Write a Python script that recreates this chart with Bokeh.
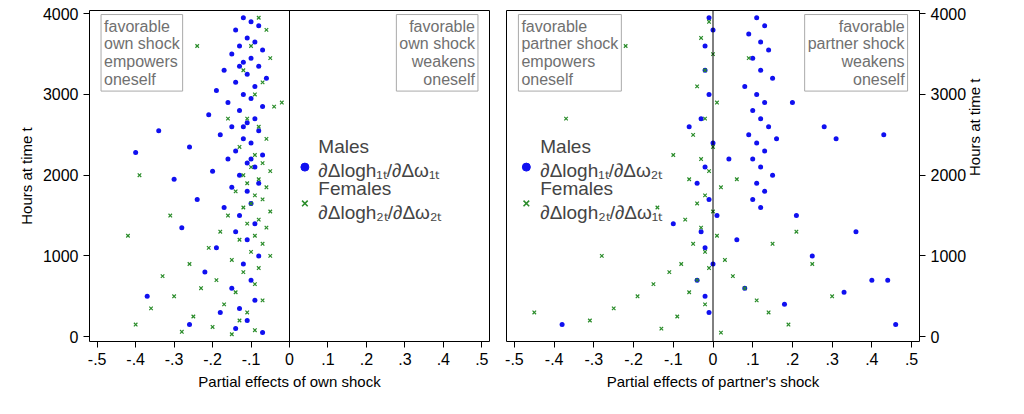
from bokeh.plotting import figure
from bokeh.layouts import row
from bokeh.models import Span, Label, FixedTicker
from bokeh.embed import file_html
from bokeh.resources import INLINE
import math

lm_pts = [(-0.12,3950),(-0.10,3900),(-0.08,3850),(-0.14,3800),(-0.11,3700),(-0.09,3650),(-0.13,3600),(-0.07,3550),(-0.15,3500),(-0.10,3450),(-0.12,3400),(-0.08,3350),(-0.17,3300),(-0.11,3250),(-0.06,3200),(-0.14,3150),(-0.09,3100),(-0.19,3050),(-0.12,3000),(-0.10,2950),(-0.16,2900),(-0.07,2850),(-0.13,2800),(-0.21,2750),(-0.09,2700),(-0.11,2650),(-0.15,2600),(-0.08,2550),(-0.34,2550),(-0.18,2500),(-0.12,2450),(-0.10,2400),(-0.26,2350),(-0.14,2300),(-0.07,2250),(-0.40,2280),(-0.16,2200),(-0.11,2150),(-0.09,2100),(-0.20,2050),(-0.13,2000),(-0.30,1950),(-0.08,1900),(-0.15,1850),(-0.11,1800),(-0.24,1700),(-0.10,1650),(-0.17,1600),(-0.13,1500),(-0.09,1400),(-0.28,1350),(-0.14,1300),(-0.11,1200),(-0.19,1100),(-0.08,1000),(-0.12,900),(-0.22,800),(-0.10,700),(-0.15,600),(-0.37,500),(-0.09,450),(-0.13,350),(-0.18,300),(-0.11,200),(-0.26,150),(-0.14,100),(-0.07,50),(-0.12,2600),(-0.13,3350),(-0.10,2200)]
lf_pts = [(-0.08,3950),(-0.06,3800),(-0.10,3600),(-0.05,3450),(-0.12,3300),(-0.07,3150),(-0.09,3000),(-0.04,2850),(-0.11,2700),(-0.08,2600),(-0.06,2450),(-0.13,2350),(-0.09,2250),(-0.07,2150),(-0.10,2100),(-0.05,2050),(-0.12,2000),(-0.08,1950),(-0.39,2000),(-0.11,1900),(-0.06,1850),(-0.14,1800),(-0.09,1750),(-0.07,1700),(-0.10,1650),(-0.12,1600),(-0.05,1550),(-0.16,1500),(-0.08,1450),(-0.11,1400),(-0.06,1350),(-0.18,1300),(-0.09,1250),(-0.42,1250),(-0.13,1200),(-0.07,1150),(-0.21,1100),(-0.10,1050),(-0.05,1000),(-0.15,950),(-0.26,900),(-0.08,850),(-0.12,800),(-0.33,750),(-0.19,700),(-0.09,650),(-0.23,600),(-0.14,550),(-0.30,500),(-0.07,450),(-0.17,400),(-0.36,350),(-0.11,300),(-0.25,250),(-0.13,200),(-0.40,150),(-0.20,120),(-0.09,80),(-0.28,60),(-0.15,30),(-0.31,1500),(-0.24,3600),(-0.02,2900),(-0.16,2700)]
rm_pts = [(-0.01,3950),(0.00,3800),(-0.02,3600),(0.11,3950),(0.13,3850),(0.09,3750),(0.12,3650),(0.14,3550),(0.10,3450),(0.12,3300),(0.15,3200),(0.08,3100),(0.11,3000),(0.13,2900),(0.10,2800),(0.12,2700),(0.14,2600),(0.09,2500),(0.11,2400),(0.13,2300),(0.10,2200),(0.12,2100),(0.15,2000),(0.11,1900),(0.13,1800),(0.10,1700),(0.12,1600),(0.16,2450),(0.20,2900),(0.28,2600),(0.31,2450),(0.43,2500),(0.21,1500),(0.36,1300),(0.25,1000),(0.40,700),(0.44,700),(0.33,550),(0.46,150),(0.18,400),(-0.02,3300),(-0.01,3000),(-0.03,2700),(0.00,2400),(-0.02,2100),(-0.04,1900),(-0.01,1700),(0.01,1500),(-0.03,1300),(-0.02,1100),(0.00,900),(-0.04,700),(-0.02,500),(-0.01,300),(-0.38,150),(-0.10,1400),(0.04,2200),(-0.06,2600),(0.06,1200),(0.08,600)]
rf_pts = [(-0.01,3900),(-0.03,3700),(0.00,3500),(-0.02,3300),(-0.04,3100),(0.01,2900),(-0.02,2700),(-0.05,2500),(0.00,2350),(-0.03,2200),(-0.01,2050),(-0.06,1950),(0.02,1850),(-0.02,1750),(-0.04,1650),(0.00,1550),(-0.07,1450),(-0.03,1350),(0.01,1250),(-0.05,1150),(-0.02,1050),(0.03,950),(-0.08,900),(-0.01,850),(-0.11,800),(0.05,750),(-0.04,700),(-0.15,650),(0.08,600),(-0.06,550),(-0.19,500),(0.11,450),(-0.02,400),(-0.25,350),(0.14,300),(-0.09,250),(-0.31,200),(0.19,150),(-0.13,100),(0.02,50),(-0.37,2700),(-0.22,3600),(0.09,3450),(-0.14,1600),(0.15,1150),(0.25,900),(-0.28,1000),(0.30,500),(-0.45,300),(0.21,1300),(-0.10,2250),(0.06,1950)]

x_ticks = [-0.5,-0.4,-0.3,-0.2,-0.1,0,0.1,0.2,0.3,0.4,0.5]
x_labels = ["-.5","-.4","-.3","-.2","-.1","0",".1",".2",".3",".4",".5"]
y_ticks = [0,1000,2000,3000,4000]

BLUE = "#1010f0"
GREEN = "#2a8c2a"
GRAY = "#707070"
FONT = "Liberation Sans"

def make(xlabel, yloc, males, females, legend, boxes, w, bl, br):
    p = figure(width=w, height=392, x_range=(-0.52, 0.52), y_range=(-60, 4040),
               y_axis_location=yloc, output_backend="svg", toolbar_location=None,
               min_border_left=bl, min_border_right=br, min_border_top=10, min_border_bottom=50)
    p.grid.visible = False
    p.outline_line_color = "black"
    p.xaxis.ticker = FixedTicker(ticks=x_ticks)
    p.xaxis.major_label_overrides = {t: l for t, l in zip(x_ticks, x_labels)}
    p.yaxis.ticker = FixedTicker(ticks=y_ticks)
    for ax in (p.xaxis[0], p.yaxis[0]):
        ax.major_tick_in = 0
        ax.major_tick_out = 6
        ax.major_tick_line_color = "black"
        ax.minor_tick_line_color = None
        ax.major_label_text_font = FONT
        ax.major_label_text_font_size = "16px"
        ax.major_label_text_color = "black"
        ax.axis_label_text_font = FONT
        ax.axis_label_text_font_size = "15px"
        ax.axis_label_text_color = "black"
        ax.axis_label_text_font_style = "normal"
        ax.axis_line_color = None
    p.xaxis.axis_label = xlabel
    p.yaxis.axis_label = "Hours at time t"
    if yloc == "right":
        p.yaxis.axis_label_orientation = math.pi / 2
    p.yaxis.major_label_orientation = "horizontal"
    p.add_layout(Span(location=0, dimension="height", line_color="black", line_width=1))
    p.scatter([a for a, b in males], [b for a, b in males], marker="circle", size=5,
              color=BLUE, line_width=0)
    p.scatter([a for a, b in females], [b for a, b in females], marker="x", size=5,
              line_color=GREEN, line_width=1.2)
    lx, t1, t2 = legend
    p.scatter([lx], [2100], marker="circle", size=8, color=BLUE)
    p.scatter([lx], [1650], marker="x", size=8, line_color=GREEN, line_width=1.5)
    for y, t in [(2360, "Males"), (2060, t1), (1840, "Females"), (1540, t2)]:
        p.add_layout(Label(x=lx + 0.035, y=y, text=t, text_font=FONT, text_font_size="19px",
                           text_baseline="middle"))
    for x, align, txt in boxes:
        p.add_layout(Label(x=x, y=3990, text=txt, text_align=align, text_baseline="top",
                           text_font=FONT, text_font_size="16px", text_color=GRAY,
                           text_line_height=1.05, border_line_color="#aaaaaa",
                           background_fill_color="white", padding=3))
    return p

p1 = make("Partial effects of own shock", "left", lm_pts, lf_pts,
          (0.04, "∂Δlogh₁ₜ/∂Δω₁ₜ", "∂Δlogh₂ₜ/∂Δω₂ₜ"),
          [(-0.49, "left", "favorable\nown shock\nempowers\noneself"),
           (0.49, "right", "favorable\nown shock\nweakens\noneself")],
          498, 89, 9)
p2 = make("Partial effects of partner's shock", "right", rm_pts, rf_pts,
          (-0.47, "∂Δlogh₁ₜ/∂Δω₂ₜ", "∂Δlogh₂ₜ/∂Δω₁ₜ"),
          [(-0.49, "left", "favorable\npartner shock\nempowers\noneself"),
           (0.49, "right", "favorable\npartner shock\nweakens\noneself")],
          502, 8, 81)

open("out.html", "w").write(file_html(row(p1, p2), INLINE))
